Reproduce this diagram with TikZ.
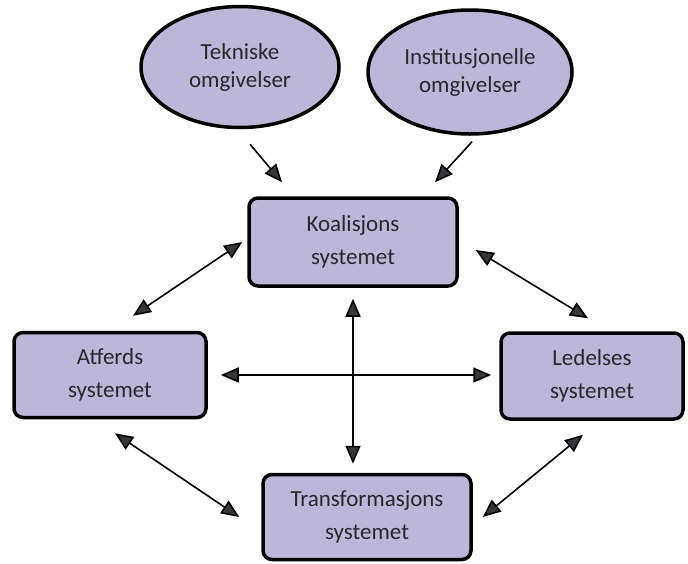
\documentclass[tikz,border=0pt]{standalone}
\usepackage{fontspec}
\setmainfont{Carlito}
\usetikzlibrary{shapes.geometric,arrows.meta}
\definecolor{lilla}{RGB}{188,183,214}
\definecolor{tekst}{RGB}{40,40,45}
\definecolor{spiss}{RGB}{55,55,60}
\tikzset{
  sys/.style={draw=black,line width=3.5pt,fill=lilla,rounded corners=9pt,align=center,
    text=tekst,font=\fontsize{23}{33}\selectfont},
  omg/.style={ellipse,draw=black,line width=3.5pt,fill=lilla,align=center,inner sep=0pt,
    text=tekst,font=\fontsize{23}{28}\selectfont},
  pil/.style={line width=1.6pt,-{Triangle[length=18pt,width=15pt,fill=spiss]}},
  dpil/.style={line width=1.6pt,{Triangle[length=18pt,width=15pt,fill=spiss]}-{Triangle[length=18pt,width=15pt,fill=spiss]}}
}
\begin{document}
\begin{tikzpicture}[x=1pt,y=-1pt]
  \useasboundingbox (0,0) rectangle (688,563);
  % omgivelser
  \node[omg,minimum width=198pt,minimum height=121pt] (tek) at (240,67) {Tekniske\\omgivelser};
  \node[omg,minimum width=204pt,minimum height=124pt] (inst) at (470,72) {Institusjonelle\\omgivelser};
  % systemer
  \node[sys,minimum width=208pt,minimum height=88pt] (koal) at (353,242) {Koalisjons\\systemet};
  \node[sys,minimum width=192pt,minimum height=85pt] (atf) at (110,375) {Atferds\\systemet};
  \node[sys,minimum width=182pt,minimum height=86pt] (led) at (592,376) {Ledelses\\systemet};
  \node[sys,minimum width=208pt,minimum height=85pt] (trans) at (367,517) {Transformasjons\\systemet};
  % piler
  \draw[pil] ([xshift=10pt,yshift=-15pt]tek.south) -- ([xshift=-71pt,yshift=14pt]koal.north);
  \draw[pil] ([xshift=2pt,yshift=-6pt]inst.south) -- ([xshift=82pt,yshift=14pt]koal.north);
  \draw[dpil] ([xshift=23pt,yshift=15pt]atf.north) -- ([xshift=-5pt]koal.west);
  \draw[dpil] ([xshift=17pt,yshift=-8pt]koal.east) -- ([xshift=-4pt,yshift=13pt]led.north);
  \draw[dpil,shorten <=13pt,shorten >=8pt] (atf.east) -- (atf.east -| led.west);
  \draw[dpil,shorten <=11pt,shorten >=9pt] (koal.south) -- (koal.south |- trans.north);
  \draw[dpil] ([xshift=5pt,yshift=-14pt]atf.south) -- ([xshift=-22pt]trans.west);
  \draw[dpil] ([xshift=-9pt,yshift=-14pt]led.south) -- ([xshift=10pt]trans.east);
\end{tikzpicture}
\end{document}
